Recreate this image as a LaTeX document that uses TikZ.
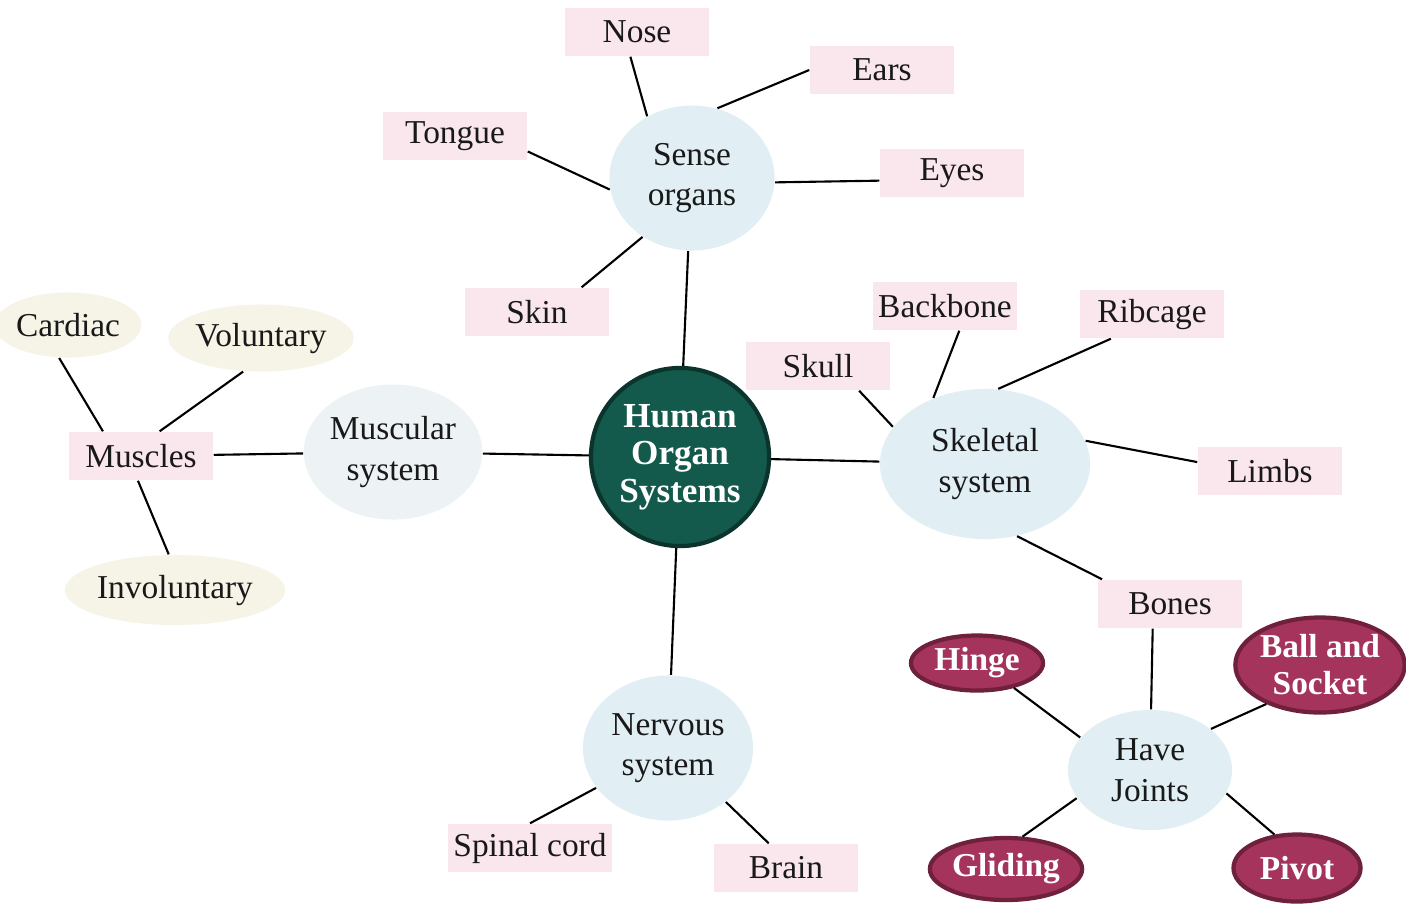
\documentclass[tikz,border=0pt]{standalone}
\usepackage{fontspec}
\setmainfont{Liberation Serif}
\usepackage{tikz}
\usetikzlibrary{shapes.geometric}

\definecolor{tagpink}{RGB}{250,231,237}
\definecolor{sysblue}{RGB}{225,239,245}
\definecolor{mistblue}{RGB}{237,242,245}
\definecolor{creamfill}{RGB}{246,243,231}
\definecolor{hubgreen}{RGB}{20,90,76}
\definecolor{hubdark}{RGB}{10,52,44}
\definecolor{jointred}{RGB}{165,52,92}
\definecolor{jointdark}{RGB}{110,32,60}

\tikzset{
  every node/.style={font=\fontsize{9.5}{11.5}\selectfont, text=black!90},
  tag/.style={rectangle, fill=tagpink, minimum width=1.44cm, minimum height=0.48cm, inner sep=1pt},
  sysnode/.style={ellipse, fill=sysblue, align=center, inner sep=0pt},
  kind/.style={ellipse, fill=creamfill, inner sep=0pt},
  joint/.style={ellipse, fill=jointred, draw=jointdark, line width=1.2pt, inner sep=0pt,
    text=white, align=center, font=\bfseries\fontsize{9.5}{10.5}\selectfont},
  hub/.style={circle, fill=hubgreen, draw=hubdark, line width=1.2pt, inner sep=0pt,
    text=white, align=center, font=\bfseries\fontsize{10}{10.6}\selectfont},
  link/.style={line width=0.6pt}
}

\begin{document}
\begin{tikzpicture}[x=0.01cm,y=-0.01cm]
\useasboundingbox[fill=white] (0,0) rectangle (1406,911);

% centre and the four systems
\node[hub, minimum size=1.78cm] (human) at (680,457) {Human\\Organ\\Systems};
\node[sysnode, minimum width=1.65cm, minimum height=1.45cm] (sense) at (692,178) {Sense\\organs};
\node[sysnode, fill=mistblue, minimum width=1.7cm, minimum height=1.35cm] (muscular) at (393,452) {Muscular\\system};
\node[sysnode, minimum width=2.1cm, minimum height=1.5cm] (skeletal) at (985,464) {Skeletal\\system};
\node[sysnode, minimum width=1.7cm, minimum height=1.45cm] (nervous) at (668,748) {Nervous\\system};

% sense organs
\node[tag] (nose) at (637,32) {Nose};
\node[tag] (ears) at (882,70) {Ears};
\node[tag] (tongue) at (455,136) {Tongue};
\node[tag] (eyes) at (952,173) {Eyes};
\node[tag] (skin) at (537,312) {Skin};

% muscles
\node[tag] (muscles) at (141,456) {Muscles};
\node[kind, minimum width=1.22cm, minimum height=0.65cm] (cardiac) at (68,325) {Cardiac};
\node[kind, minimum width=1.73cm, minimum height=0.67cm] (voluntary) at (261,338) {Voluntary};
\node[kind, minimum width=2.1cm, minimum height=0.7cm] (involuntary) at (175,590) {Involuntary};

% skeleton
\node[tag] (skull) at (818,366) {Skull};
\node[tag] (backbone) at (945,306) {Backbone};
\node[tag] (ribcage) at (1152,314) {Ribcage};
\node[tag] (limbs) at (1270,471) {Limbs};
\node[tag] (bones) at (1170,604) {Bones};
\node[sysnode, minimum width=1.64cm, minimum height=1.2cm] (joints) at (1150,770) {Have\\Joints};
\node[joint, minimum width=1.32cm, minimum height=0.55cm] (hinge) at (977,663) {Hinge};
\node[joint, minimum width=1.6cm, minimum height=0.95cm] (ballsocket) at (1320,665) {Ball and\\Socket};
\node[joint, minimum width=1.3cm, minimum height=0.62cm] (gliding) at (1006,869) {Gliding};
\node[joint, minimum width=1.27cm, minimum height=0.67cm] (pivot) at (1297,868) {Pivot};

% nerves
\node[tag, minimum width=1.64cm] (spinal) at (530,848) {Spinal cord};
\node[tag] (brain) at (786,868) {Brain};

% connectors
\draw[link] (human) -- (muscular);
\draw[link] (human) -- (skeletal);
\draw[link] (human) -- (nervous);
\draw[link] (human.88) -- (sense.-93);

\draw[link] (nose.-105) -- (sense.126);
\draw[link] (ears.west) -- (sense.70);
\draw[link] (tongue.-12) -- (sense.-172);
\draw[link] (sense.-3) -- (eyes.186);
\draw[link] (skin.29) -- (sense.-130);

\draw[link] (muscles) -- (muscular);
\draw[link] (cardiac.-105) -- (muscles.147);
\draw[link] (voluntary.-118) -- (muscles.53);
\draw[link] (muscles.-97) -- (involuntary.100);

\draw[link] (skull.-31) -- (skeletal.158);
\draw[link] (backbone.-60) -- (skeletal.128);
\draw[link] (ribcage.-149) -- (skeletal.80);
\draw[link] (skeletal.13) -- (limbs.173);
\draw[link] (skeletal.-66) -- (bones.160);
\draw[link] (bones.-125) -- (joints.89);

\draw[link] (hinge.-34) -- (joints.155);
\draw[link] (ballsocket.-144) -- (joints.34);
\draw[link] (joints.-159) -- (gliding.63);
\draw[link] (joints.-17) -- (pivot.124);

\draw[link] (nervous.-151) -- (spinal.north);
\draw[link] (nervous.-43) -- (brain.125);
\end{tikzpicture}
\end{document}
